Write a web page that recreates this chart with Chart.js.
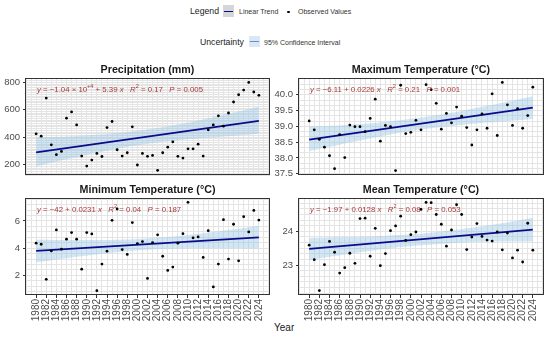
<!DOCTYPE html>
<html><head><meta charset="utf-8">
<script src="https://cdn.jsdelivr.net/npm/chart.js@4.4.1/dist/chart.umd.min.js"></script>
<style>
html,body{margin:0;padding:0;background:#fff;}
body{width:550px;height:337px;position:relative;overflow:hidden;font-family:"Liberation Sans",Arial,sans-serif;}
canvas{position:absolute;left:0;top:0;}
.t{position:absolute;white-space:nowrap;color:#1a1a1a;line-height:1;}
.box{position:absolute;}
</style></head><body>
<div class="t" style="left:190px;top:7px;font-size:8.7px;">Legend</div>
<div class="box" style="left:223px;top:5px;width:11px;height:12px;background:#d6d6d6;"></div>
<div class="box" style="left:224px;top:10.5px;width:9px;height:1.6px;background:#0a0a8c;"></div>
<div class="t" style="left:239px;top:8px;font-size:7px;color:#333;">Linear Trend</div>
<div class="box" style="left:287px;top:10.5px;width:2.6px;height:2.6px;border-radius:50%;background:#000;"></div>
<div class="t" style="left:298px;top:8px;font-size:7px;color:#333;">Observed Values</div>
<div class="t" style="left:200px;top:37.5px;font-size:8.7px;">Uncertainty</div>
<div class="box" style="left:249px;top:36px;width:11px;height:11px;background:#dbe8f4;"></div>
<div class="box" style="left:250px;top:40.7px;width:9px;height:1.6px;background:#5b8fd8;"></div>
<div class="t" style="left:264px;top:38.5px;font-size:7px;color:#333;">95% Confidence Interval</div>
<div class="t" style="left:274px;top:323px;font-size:10px;">Year</div>
<canvas id="c0" width="550" height="337"></canvas>
<canvas id="c1" width="550" height="337"></canvas>
<canvas id="c2" width="550" height="337"></canvas>
<canvas id="c3" width="550" height="337"></canvas>
<script>
// ---------------- DATA ----------------
const years = [1980,1981,1982,1983,1984,1985,1986,1987,1988,1989,1990,1991,1992,1993,1994,1995,1996,1997,1998,1999,2000,2001,2002,2003,2004,2005,2006,2007,2008,2009,2010,2011,2012,2013,2014,2015,2016,2017,2018,2019,2020,2021,2022,2023,2024];
const precipitation = [425,408,686,345,273,297,539,585,490,263,190,234,282,260,471,515,309,263,287,476,198,282,261,268,159,287,328,367,261,248,316,316,350,263,454,490,556,481,577,657,710,744,800,730,706];
const maxTemperature = [39.17,38.89,38.59,38.34,38.07,37.66,38.74,38.01,39.04,38.99,38.99,38.83,39.25,39.86,38.53,39.03,38.99,37.60,40.30,38.77,38.81,39.19,38.89,40.32,40.16,39.73,38.91,39.41,39.11,39.61,39.32,38.96,38.41,38.89,39.39,38.94,40.03,38.71,40.39,39.68,39.03,39.56,38.94,39.34,40.24];
const minTemperature = [4.37,4.29,1.71,3.80,5.34,3.93,4.66,5.15,4.66,2.46,5.15,5.05,0.88,2.83,3.78,6.05,6.88,3.90,3.54,5.88,4.34,4.49,1.78,4.41,4.98,3.41,2.37,2.61,4.37,5.07,7.37,4.76,4.83,3.32,5.29,1.15,2.83,6.10,3.20,5.76,3.07,6.32,5.20,6.78,6.07];
const meanTemperature = [23.59,23.16,22.24,23.01,23.70,23.38,22.76,22.92,23.35,23.05,24.38,24.39,23.26,24.09,22.98,23.34,24.02,24.16,24.45,23.73,23.90,23.98,24.65,24.86,24.85,24.50,24.21,23.56,24.04,24.79,24.50,23.46,23.83,24.23,23.85,23.74,23.71,23.98,23.45,23.95,23.21,23.44,23.09,24.24,23.44];

const trendYears = [1980, 2024];
const precipTrend = [290, 520];
const maxTrend = [38.58, 39.59];
const minTrend = [3.80, 4.80];
const meanTrend = [23.48, 24.05];

const bandYears = [1980,1986,1991,1996,2002,2008,2013,2018,2024];
const precipUpper = [400,405,416,431,457,493,530,571,622];
const precipLower = [188,239,280,317,353,379,394,407,425];
const maxUpper = [39.00,39.03,39.08,39.16,39.28,39.43,39.59,39.75,39.95];
const maxLower = [38.22,38.42,38.58,38.74,38.90,39.01,39.09,39.15,39.23];
const minUpper = [4.63,4.61,4.60,4.62,4.72,4.89,5.10,5.33,5.63];
const minLower = [2.97,3.27,3.50,3.70,3.88,3.97,4.00,3.99,3.97];
const meanUpper = [23.80,23.83,23.84,23.88,23.93,24.03,24.13,24.24,24.40];
const meanLower = [23.15,23.29,23.40,23.50,23.59,23.65,23.69,23.70,23.70];

const xTickLabels = [1980,1982,1984,1986,1988,1990,1992,1994,1996,1998,2000,2002,2004,2006,2008,2010,2012,2014,2016,2018,2020,2022,2024];
const precipTicks = [200,400,600,800];
const maxTicks = [37.5,38.0,38.5,39.0,39.5,40.0];
const minTicks = [2,4,6];
const meanTicks = [23,24];

// ---------------- DRAWING ----------------
const FONT = '"Liberation Sans", Arial, sans-serif';
const NOTE_COLOR = '#a83a36';

function drawSegments(ctx, segs, x, y){
  ctx.textAlign = 'left'; ctx.textBaseline = 'middle'; ctx.fillStyle = NOTE_COLOR;
  for (const s of segs){
    const size = s.sup ? 5.6 : 7.8;
    ctx.font = (s.i ? 'italic ' : '') + size + 'px ' + FONT;
    ctx.fillText(s.t, x, s.sup ? y - 3 : y);
    x += ctx.measureText(s.t).width;
  }
}

const panelDecor = {
  id: 'panelDecor',
  afterDatasetsDraw(chart, args, o){
    const ctx = chart.ctx, a = chart.chartArea;
    ctx.save();
    drawSegments(ctx, o.note, a.left + 12, a.top + 11.5);
    ctx.restore();
  },
  afterDraw(chart, args, o){
    const ctx = chart.ctx, a = chart.chartArea;
    ctx.save();
    ctx.strokeStyle = '#333'; ctx.lineWidth = 1;
    ctx.strokeRect(Math.round(a.left) + 0.5, Math.round(a.top) + 0.5, Math.round(a.right - a.left) - 1, Math.round(a.bottom - a.top) - 1);
    ctx.fillStyle = '#1a1a1a';
    ctx.font = 'bold 10.7px ' + FONT;
    ctx.textAlign = 'center'; ctx.textBaseline = 'middle';
    ctx.fillText(o.title, (a.left + a.right) / 2, a.top - 8);
    ctx.restore();
  }
};

const near = (v, arr) => arr.some(t => Math.abs(t - v) < 1e-6);

function makePanel(id, cfg){
  const yMajor = cfg.yTicks;
  const pts = years.map((yr, i) => ({x: yr, y: cfg.values[i]}));
  const trend = trendYears.map((yr, i) => ({x: yr, y: cfg.trend[i]}));
  const up = bandYears.map((yr, i) => ({x: yr, y: cfg.upper[i]}));
  const lo = bandYears.map((yr, i) => ({x: yr, y: cfg.lower[i]}));
  new Chart(document.getElementById(id), {
    type: 'scatter',
    data: { datasets: [
      { data: pts, backgroundColor: '#000', borderWidth: 0, pointRadius: 1.4, pointHoverRadius: 1.4 },
      { type: 'line', data: trend, borderColor: '#0a0a8c', borderWidth: 1.7, pointRadius: 0, fill: false },
      { type: 'line', data: up, borderColor: 'rgba(0,0,0,0)', borderWidth: 0, pointRadius: 0, tension: 0.4, fill: false },
      { type: 'line', data: lo, borderColor: 'rgba(0,0,0,0)', borderWidth: 0, pointRadius: 0, tension: 0.4, fill: '-1', backgroundColor: 'rgba(150,196,226,0.42)' }
    ]},
    options: {
      responsive: false, animation: false, events: [],
      layout: { padding: cfg.pad },
      plugins: { legend: {display: false}, tooltip: {enabled: false}, title: {display: false},
        panelDecor: { title: cfg.title, note: cfg.note } },
      scales: {
        x: {
          type: 'linear', min: 1977.8, max: 2026.2,
          border: { display: false },
          grid: { color: '#e4e4e4', lineWidth: 1, drawTicks: cfg.showX, tickLength: 3,
                  tickColor: ctx => (ctx.tick && near(ctx.tick.value, xTickLabels)) ? '#333' : 'rgba(0,0,0,0)' },
          ticks: { display: cfg.showX, autoSkip: false, maxRotation: 90, minRotation: 90, padding: 1,
                   color: '#4d4d4d', font: { family: FONT, size: 10 },
                   callback: v => near(v, xTickLabels) ? String(Math.round(v)) : '' },
          afterBuildTicks: s => { const t = []; for (let yr = 1978; yr <= 2026; yr++) t.push({value: yr}); s.ticks = t; },
          afterFit: s => { s.height = cfg.showX ? 30 : 0; s.paddingLeft = 0; s.paddingRight = 0; }
        },
        y: {
          min: cfg.yMin, max: cfg.yMax,
          border: { display: false },
          grid: { color: '#e4e4e4', lineWidth: 1, drawTicks: true, tickLength: 2,
                  tickColor: ctx => (ctx.tick && near(ctx.tick.value, yMajor)) ? '#333' : 'rgba(0,0,0,0)' },
          ticks: { autoSkip: false, padding: 3, color: '#4d4d4d', font: { family: FONT, size: 9.5 },
                   callback: v => near(v, yMajor) ? cfg.fmt(v) : '' },
          afterBuildTicks: s => {
            const t = [], st = cfg.minorStep;
            for (let k = Math.ceil(cfg.yMin / st - 1e-9); k * st <= cfg.yMax + 1e-9; k++) t.push({value: +(k * st).toFixed(6)});
            s.ticks = t;
          },
          afterFit: s => { s.width = cfg.yW; s.paddingTop = 0; s.paddingBottom = 0; }
        }
      }
    },
    plugins: [panelDecor]
  });
}

makePanel('c0', {
  title: 'Precipitation (mm)', values: precipitation, trend: precipTrend, upper: precipUpper, lower: precipLower,
  yMin: 125, yMax: 832, yTicks: precipTicks, minorStep: 12.5, fmt: v => String(Math.round(v)), yW: 25, showX: false,
  pad: {left: 0, right: 280, top: 78, bottom: 162},
  note: [{t:'y',i:1},{t:' = \u22121.04 \u00d7 10'},{t:'+4',sup:1},{t:' + 5.39 '},{t:'x',i:1},{t:'   '},{t:'R',i:1},{t:'2',sup:1},{t:' = 0.17   '},{t:'P',i:1},{t:' = 0.005'}]
});
makePanel('c1', {
  title: 'Maximum Temperature (\u00b0C)', values: maxTemperature, trend: maxTrend, upper: maxUpper, lower: maxLower,
  yMin: 37.46, yMax: 40.53, yTicks: maxTicks, minorStep: 1/6, fmt: v => v.toFixed(1), yW: 24, showX: false,
  pad: {left: 274, right: 6, top: 78, bottom: 162},
  note: [{t:'y',i:1},{t:' = \u22126.11 + 0.0226 '},{t:'x',i:1},{t:'   '},{t:'R',i:1},{t:'2',sup:1},{t:' = 0.21   '},{t:'P',i:1},{t:' = 0.001'}]
});
makePanel('c2', {
  title: 'Minimum Temperature (\u00b0C)', values: minTemperature, trend: minTrend, upper: minUpper, lower: minLower,
  yMin: 0.56, yMax: 7.69, yTicks: minTicks, minorStep: 0.4, fmt: v => String(Math.round(v)), yW: 25, showX: true,
  pad: {left: 0, right: 280, top: 198, bottom: 12},
  note: [{t:'y',i:1},{t:' = \u221242 + 0.0231 '},{t:'x',i:1},{t:'   '},{t:'R',i:1},{t:'2',sup:1},{t:' = 0.04   '},{t:'P',i:1},{t:' = 0.187'}]
});
makePanel('c3', {
  title: 'Mean Temperature (\u00b0C)', values: meanTemperature, trend: meanTrend, upper: meanUpper, lower: meanLower,
  yMin: 22.11, yMax: 24.99, yTicks: meanTicks, minorStep: 1/6, fmt: v => String(Math.round(v)), yW: 24, showX: true,
  pad: {left: 274, right: 6, top: 198, bottom: 12},
  note: [{t:'y',i:1},{t:' = \u22121.97 + 0.0128 '},{t:'x',i:1},{t:'   '},{t:'R',i:1},{t:'2',sup:1},{t:' = 0.08   '},{t:'P',i:1},{t:' = 0.053'}]
});
</script>
</body></html>
